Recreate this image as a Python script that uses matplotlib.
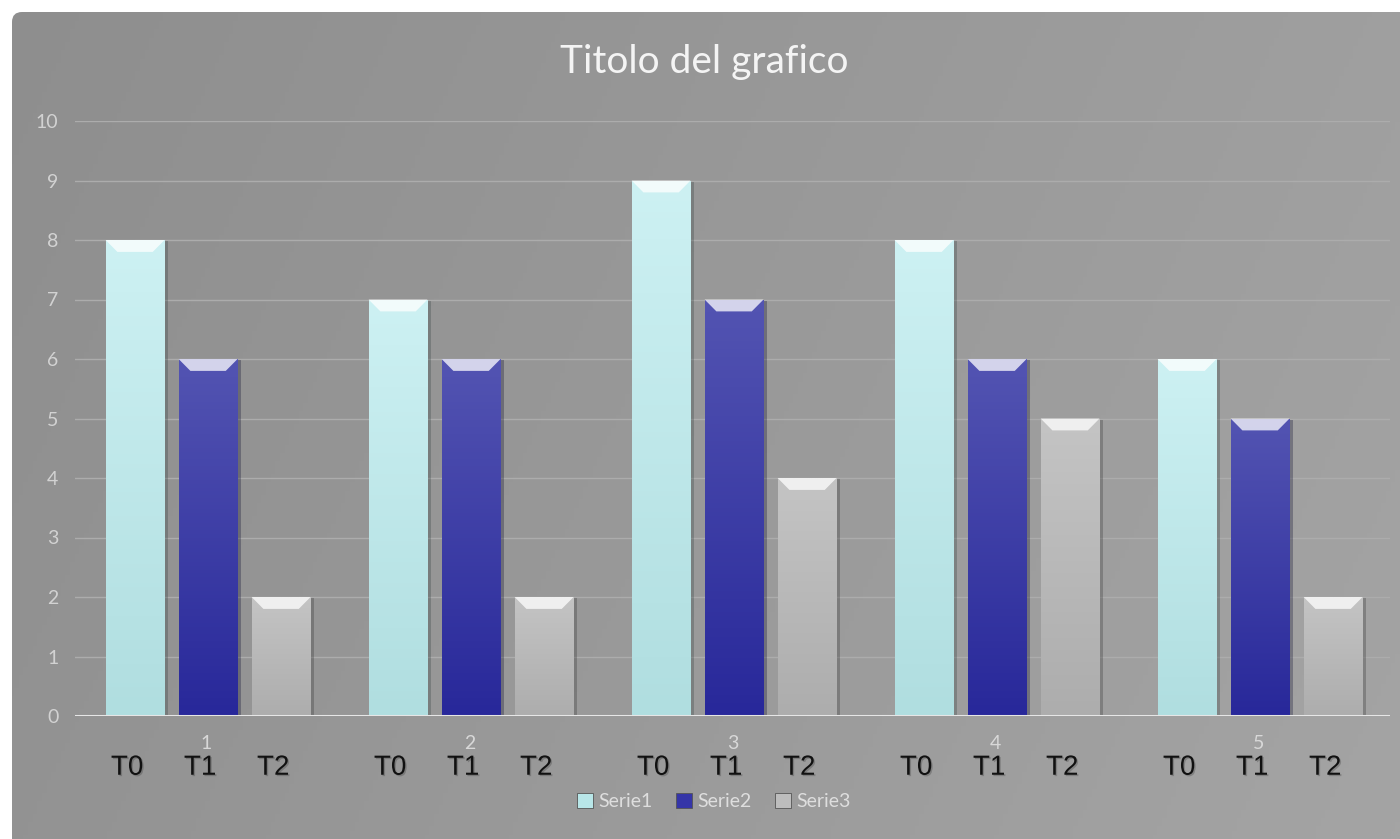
#!/usr/bin/env python

import numpy as np
import matplotlib.pyplot as plt
import matplotlib.patches as mpatches
import matplotlib.patheffects as pe
from matplotlib.colors import LinearSegmentedColormap

plt.rcParams['font.family'] = ['Lato', 'DejaVu Sans']

# data
categories = ['1', '2', '3', '4', '5']
series_names = ['Serie1', 'Serie2', 'Serie3']
serie1 = [8, 7, 9, 8, 6]
serie2 = [6, 6, 7, 6, 5]
serie3 = [2, 2, 4, 5, 2]
bar_labels = ['T0', 'T1', 'T2']
yticks = list(range(0, 11))

# colours (top, bottom) for each series
grads = [('#cdf1f3', '#b0dee0'), ('#5354b2', '#28289a'), ('#c4c4c4', '#adadad')]
legend_cols = ['#b8e6e8', '#3535a8', '#bdbdbd']

fig = plt.figure(figsize=(14, 8.39), dpi=100)
fig.patch.set_facecolor('white')

# grey panel with rounded corner
bg = fig.add_axes([0, 0, 1, 1], zorder=-10)
bg.set_xlim(0, 1400)
bg.set_ylim(839, 0)
bg.axis('off')
gx, gy = np.meshgrid(np.linspace(0, 1, 300), np.linspace(0, 1, 200))
grad = 0.55 * gx + 0.15 * gy
cmap_bg = LinearSegmentedColormap.from_list('bg', ['#8e8e8e', '#a4a4a4'])
im = bg.imshow(grad, cmap=cmap_bg, extent=(0, 1400, 839, 0), aspect='auto')
panel = mpatches.FancyBboxPatch((12, 12), 1420, 860,
                                boxstyle='round,pad=0,rounding_size=10',
                                transform=bg.transData, facecolor='none',
                                edgecolor='none')
bg.add_patch(panel)
im.set_clip_path(panel)

ax = fig.add_axes([75/1400, 123/839, 1315/1400, 595/839])
ax.set_facecolor('none')

x = np.arange(1, 6)
width = 0.224
step = 0.2776
data = [serie1, serie2, serie3]

handles = []
for i, vals in enumerate(data):
    pos = x + (i - 1) * step + 0.006
    bars = ax.bar(pos, vals, width, color=grads[i][1], zorder=3,
                  edgecolor='none', label=series_names[i])
    handles.append(mpatches.Patch(facecolor=legend_cols[i],
                                  edgecolor='#555555', linewidth=0.6))
    cmap = LinearSegmentedColormap.from_list('s%d' % i, [grads[i][1], grads[i][0]])
    for b in bars:
        bx, bw, bh = b.get_x(), b.get_width(), b.get_height()
        b.set_path_effects([pe.SimplePatchShadow(offset=(2.5, -1), alpha=0.3),
                            pe.Normal()])
        g = np.linspace(0, 1, 100).reshape(-1, 1)
        img = ax.imshow(g, cmap=cmap, origin='lower', aspect='auto',
                        extent=(bx, bx + bw, 0, bh), zorder=4)
        img.set_clip_path(b)
        # bevel on top
        bev = 0.2
        inset = bw * 0.2
        top = mpatches.Polygon([[bx, bh], [bx + bw, bh],
                                [bx + bw - inset, bh - bev], [bx + inset, bh - bev]],
                               closed=True, facecolor='white', alpha=0.75,
                               edgecolor='none', zorder=5)
        ax.add_patch(top)
        # label below the bar
        ax.text(bx + bw / 2 - 0.03, -0.87, bar_labels[i], ha='center', va='center',
                fontsize=20, color='#111111', family='Liberation Sans',
                clip_on=False, zorder=6,
                path_effects=[pe.withSimplePatchShadow(offset=(1, -1),
                                                       alpha=0.2)])

ax.set_xlim(0.5, 5.5)
ax.set_ylim(0, 10)
ax.set_yticks(yticks)
ax.set_xticks(x)
ax.set_xticklabels(categories)
ax.tick_params(axis='y', length=0, pad=12, labelsize=14, labelcolor='#d2d2d2')
ax.tick_params(axis='x', length=0, pad=14, labelsize=14, labelcolor='#d8d8d8')
for s in ax.spines.values():
    s.set_visible(False)
ax.grid(True, axis='y', color='#acacac', lw=1, zorder=0)
ax.axhline(0, color='#e6e6e6', lw=2.2, zorder=6)

fig.text(0.503, 0.926, 'Titolo del grafico', ha='center', va='center',
         fontsize=28, color='#f4f4f4')

fig.legend(handles, series_names, loc='center', bbox_to_anchor=(0.51, 0.045),
           ncol=3, frameon=False, labelcolor='#dedede',
           handlelength=0.8, handleheight=0.8, handletextpad=0.3,
           columnspacing=1.2, prop={'size': 14})

plt.savefig('out.png', dpi=100)
